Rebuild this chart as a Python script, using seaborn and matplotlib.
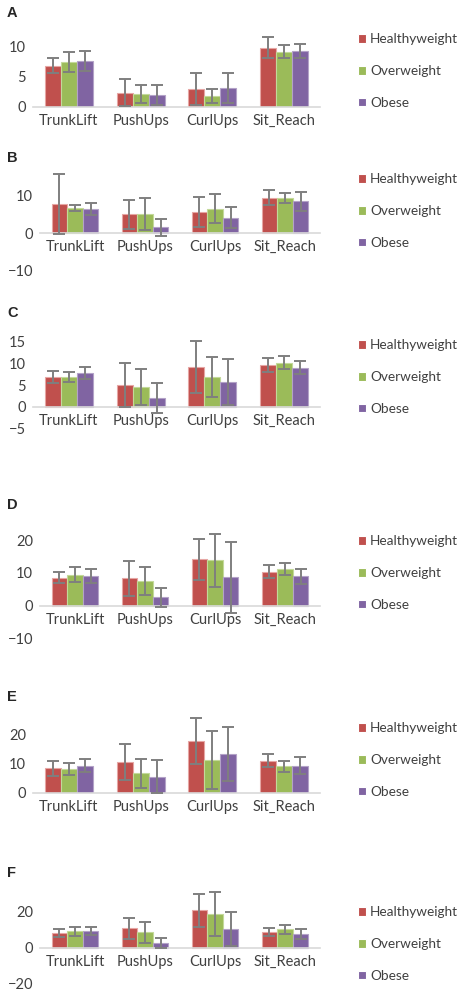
import pandas as pd
import seaborn as sns
import matplotlib.pyplot as plt

# categories and groups
categories = ["TrunkLift", "PushUps", "CurlUps", "Sit_Reach"]
groups = ["Healthyweight", "Overweight", "Obese"]
panel_names = ["A", "B", "C", "D", "E", "F"]

# mean values: one row per group (Healthyweight, Overweight, Obese)
mean_A = [[6.9, 2.4, 3.0, 9.9], [7.5, 2.2, 1.8, 9.2], [7.7, 2.0, 3.1, 9.4]]
err_A = [[1.2, 2.3, 2.65, 1.75], [1.7, 1.55, 1.2, 1.1], [1.65, 1.6, 2.5, 1.15]]

mean_B = [[7.8, 5.1, 5.6, 9.5], [6.8, 5.2, 6.6, 9.5], [6.4, 1.6, 4.2, 8.5]]
err_B = [[7.9, 3.9, 4.0, 2.0], [0.8, 4.3, 3.95, 1.3], [1.55, 2.2, 2.75, 2.6]]

mean_C = [[6.9, 5.0, 9.1, 9.6], [6.8, 4.5, 6.8, 10.2], [7.7, 2.1, 5.7, 9.0]]
err_C = [[1.45, 5.1, 6.0, 1.6], [1.15, 4.1, 4.65, 1.45], [1.4, 3.45, 5.25, 1.55]]

mean_D = [[8.5, 8.4, 14.1, 10.4], [9.5, 7.5, 13.8, 11.3], [9.0, 2.6, 8.6, 9.0]]
err_D = [[1.7, 5.3, 6.15, 2.0], [2.2, 4.2, 8.0, 1.8], [2.2, 2.85, 10.8, 2.3]]

mean_E = [[8.3, 10.5, 17.6, 10.9], [8.0, 6.7, 11.2, 9.0], [9.3, 5.5, 13.3, 9.3]]
err_E = [[2.6, 6.25, 7.85, 2.2], [2.1, 5.0, 10.0, 1.95], [2.1, 5.65, 9.3, 2.95]]

mean_F = [[8.3, 10.7, 20.6, 8.7], [9.1, 8.5, 18.6, 10.1], [9.3, 2.7, 10.5, 7.6]]
err_F = [[2.25, 5.65, 8.9, 2.45], [2.45, 5.75, 12.05, 2.7], [2.25, 2.9, 9.3, 2.75]]

yticks_list = [[0, 5, 10], [-10, 0, 10], [-5, 0, 5, 10, 15],
               [-10, 0, 10, 20], [0, 10, 20], [-20, 0, 20]]

means = [mean_A, mean_B, mean_C, mean_D, mean_E, mean_F]
errs = [err_A, err_B, err_C, err_D, err_E, err_F]

# layout in pixels: (left, zero line y, px per unit, ylim)
layout = [
    (33, 107.0, 6.0, (0, 13)),
    (40, 233.3, 3.75, (-10, 18)),
    (33, 406.7, 4.33, (-5, 17)),
    (40, 605.7, 3.28, (-10, 23)),
    (33, 792.7, 2.92, (0, 27)),
    (40, 947.7, 1.81, (-20, 33)),
]
legend_mid = [71, 211, 377, 573, 760, 944]
label_y = [13, 158, 313, 505, 697, 873]

colors = ["#C0504D", "#9BBB59", "#8064A2"]
edges = ["#E6A6A4", "#C3D99A", "#B3A2C7"]

W, H = 459, 994
sns.set_style("white")
plt.rcParams['font.family'] = ['Lato', 'DejaVu Sans']

fig = plt.figure(figsize=(W / 100, H / 100), dpi=100)

for i in range(6):
    left, zero, ppu, ylim = layout[i]
    top_px = zero - ylim[1] * ppu
    bot_px = zero - ylim[0] * ppu
    ax = fig.add_axes([left / W, 1 - bot_px / H, (320 - left) / W, (bot_px - top_px) / H])

    rows = []
    for g, name in enumerate(groups):
        for c, cat in enumerate(categories):
            rows.append({"cat": cat, "group": name, "val": means[i][g][c]})
    df = pd.DataFrame(rows)

    sns.barplot(data=df, x="cat", y="val", hue="group", order=categories,
                hue_order=groups, palette=colors, saturation=1, width=0.67,
                errorbar=None, linewidth=0.8, ax=ax)
    bar_conts = list(ax.containers)
    for k, cont in enumerate(bar_conts):
        xs = []
        for p in cont.patches:
            p.set_edgecolor(edges[k])
            xs.append(p.get_x() + p.get_width() / 2)
        ax.errorbar(xs, means[i][k], yerr=errs[i][k], fmt='none', ecolor='#7f7f7f',
                    elinewidth=1.4, capsize=4.2, capthick=1.4, zorder=5)

    ax.set_ylim(*ylim)
    ax.set_xlim(-0.5, 3.5)
    ax.set_yticks(yticks_list[i])
    ax.set_xlabel("")
    ax.set_ylabel("")
    for s in ["top", "right", "left"]:
        ax.spines[s].set_visible(False)
    ax.spines["bottom"].set_position(("data", 0))
    ax.spines["bottom"].set_color("#d9d9d9")
    ax.spines["bottom"].set_linewidth(1.2)
    ax.tick_params(axis="both", length=0, labelsize=10.5, colors="#404040")
    ax.tick_params(axis="x", pad=5)
    ax.tick_params(axis="y", pad=5)

    handles, labels = ax.get_legend_handles_labels()
    ax.legend(handles, labels, loc="center left", frameon=False,
              bbox_to_anchor=(351 / W, 1 - legend_mid[i] / H), bbox_transform=fig.transFigure,
              fontsize=9.8, labelspacing=1.45, handlelength=0.6, handleheight=0.6,
              handletextpad=0.3, borderpad=0, labelcolor="#404040")

    fig.text(7 / W, 1 - label_y[i] / H, panel_names[i], fontsize=10.5, fontweight="bold",
             family="Liberation Sans", va="center", ha="left")

plt.savefig("out.png", dpi=100)
